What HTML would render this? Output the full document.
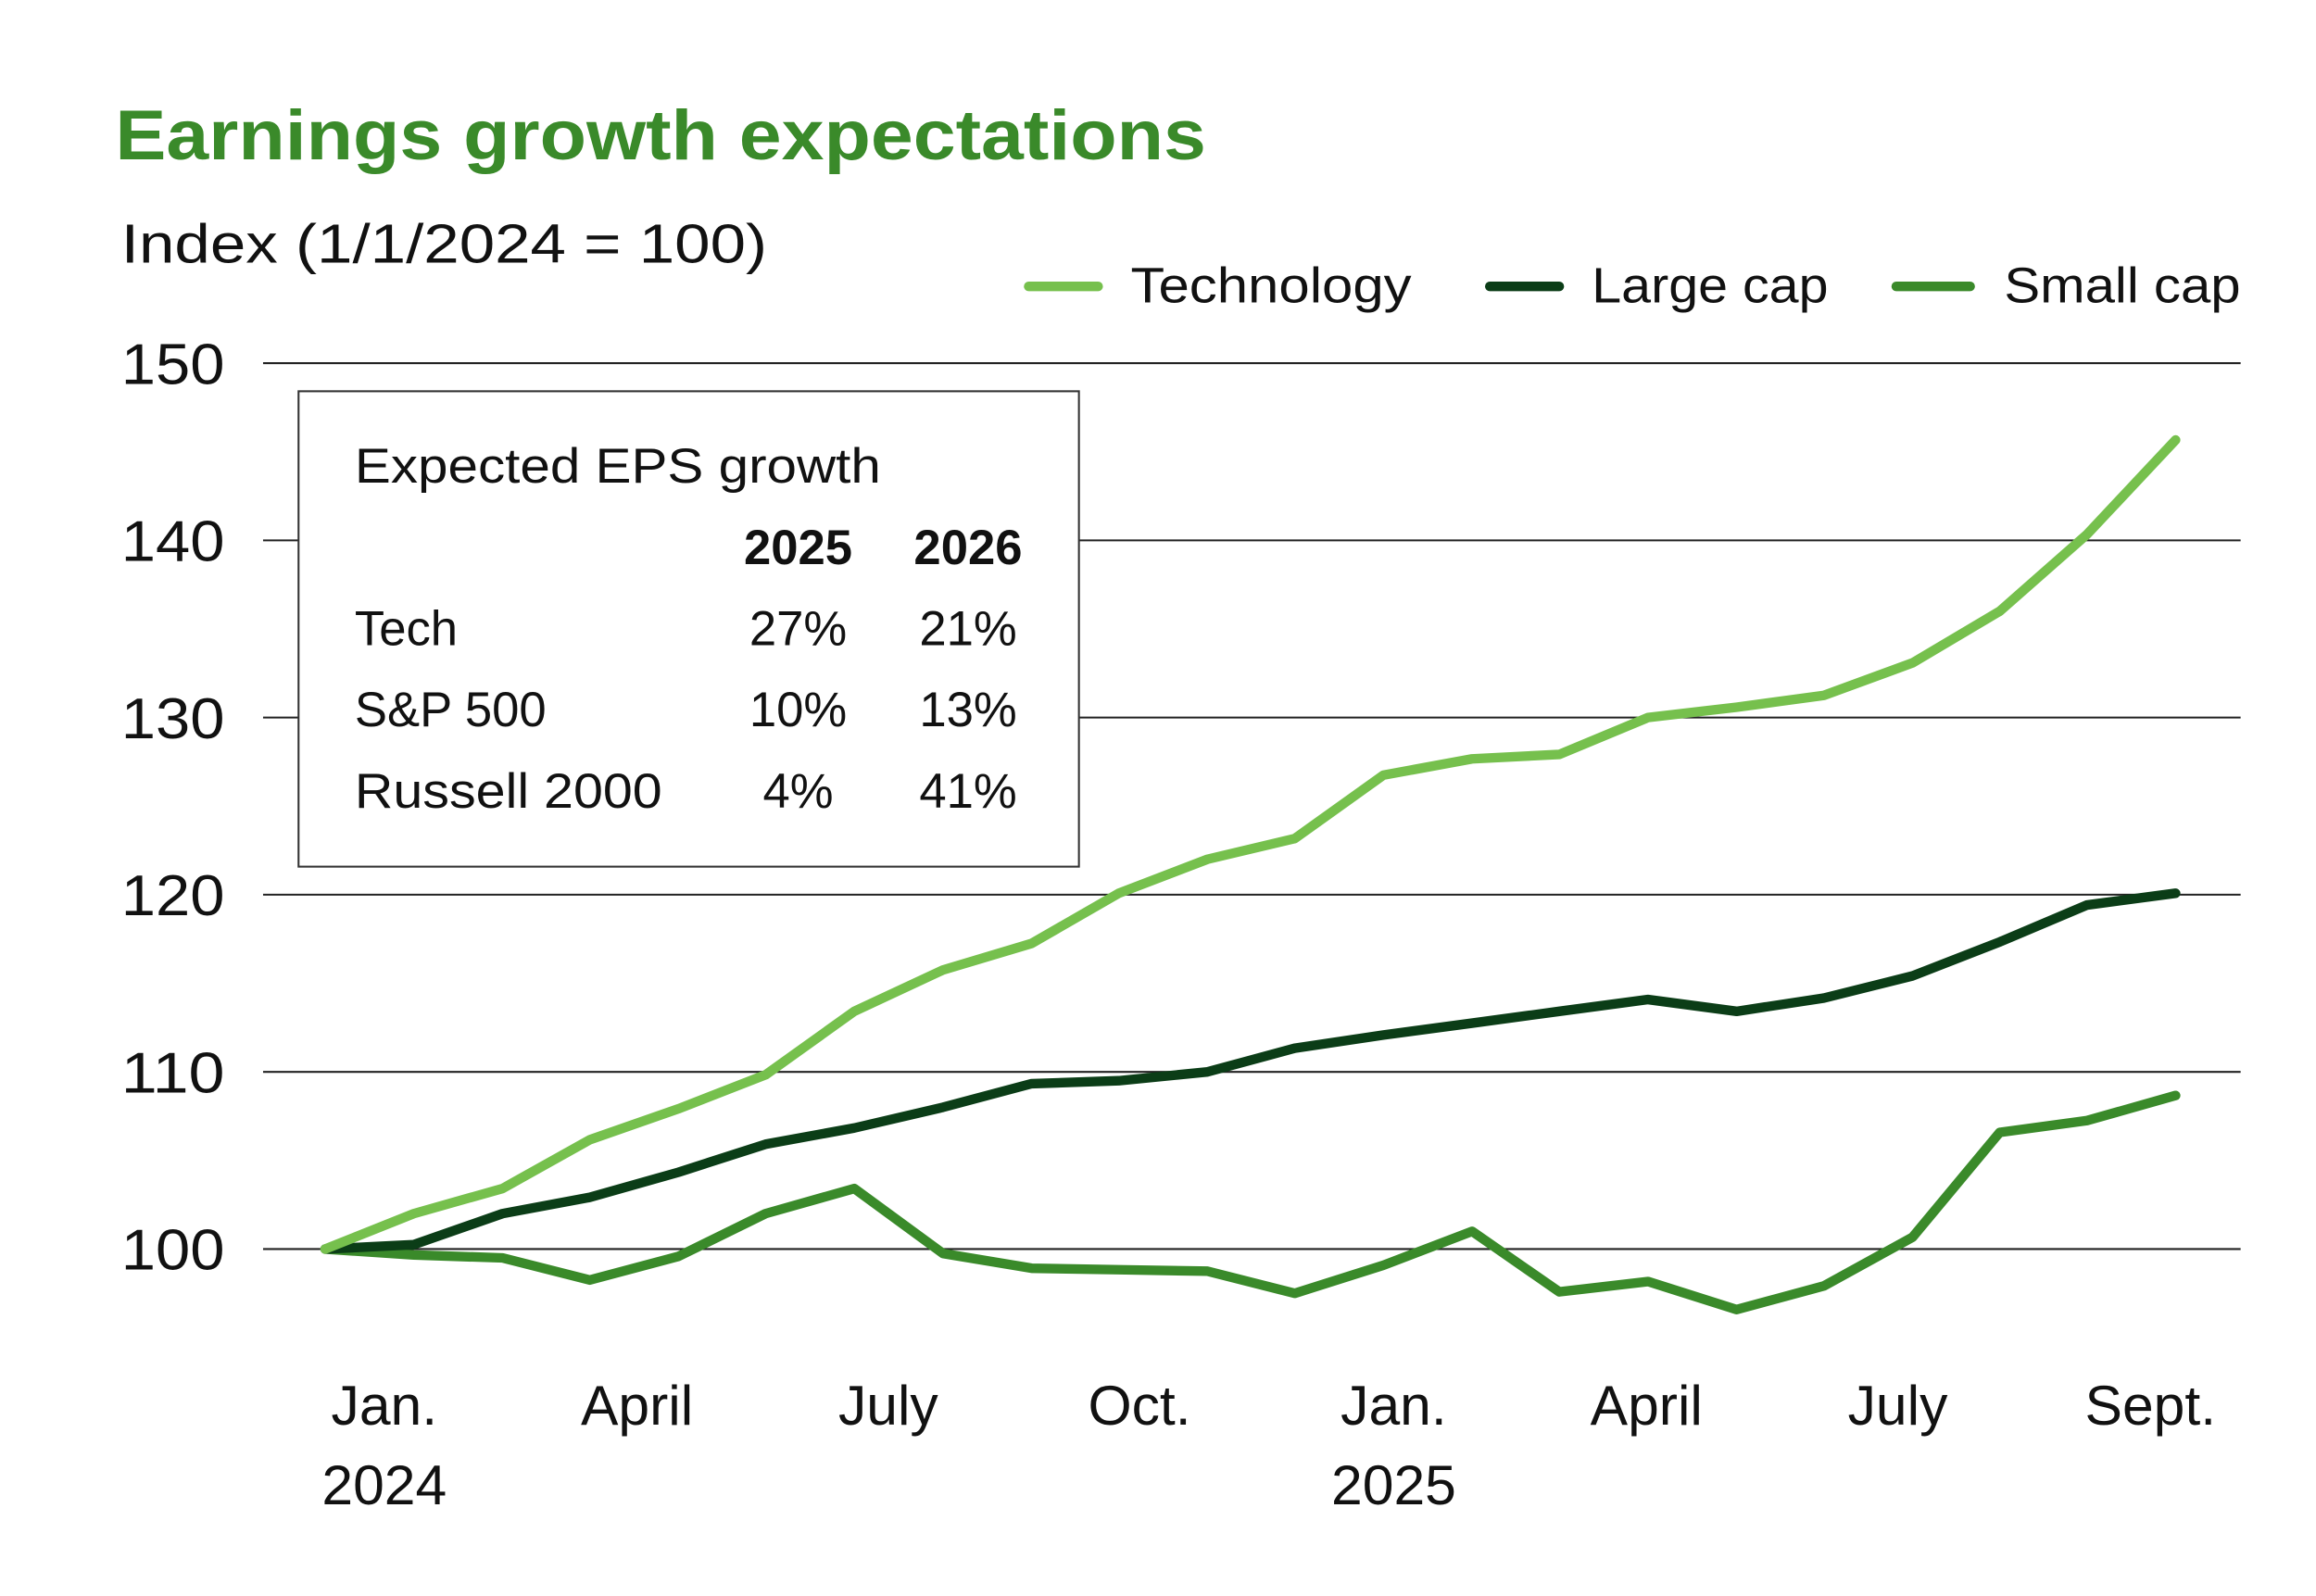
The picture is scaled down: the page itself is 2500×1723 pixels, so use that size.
<!DOCTYPE html>
<html><head><meta charset="utf-8"><style>html,body{margin:0;padding:0;background:#fff}svg{display:block}</style></head>
<body>
<svg width="2500" height="1723" viewBox="0 0 1567 1081" preserveAspectRatio="none" xmlns="http://www.w3.org/2000/svg" font-family="'Liberation Sans', sans-serif">
<text x="78" y="108" font-size="48" font-weight="bold" fill="#3a8a2a" textLength="738" lengthAdjust="spacingAndGlyphs">Earnings growth expectations</text>
<text x="82" y="178" font-size="37" fill="#111" textLength="437" lengthAdjust="spacingAndGlyphs">Index (1/1/2024 = 100)</text>
<g stroke-width="6.5" stroke-linecap="round">
<line x1="696" y1="194" x2="743" y2="194" stroke="#76c04d"/>
<line x1="1008" y1="194" x2="1055" y2="194" stroke="#0b3d17"/>
<line x1="1283" y1="194" x2="1333" y2="194" stroke="#3a8a2a"/>
</g>
<g font-size="34" fill="#111">
<text x="765" y="205" textLength="190" lengthAdjust="spacingAndGlyphs">Technology</text>
<text x="1077" y="205" textLength="160" lengthAdjust="spacingAndGlyphs">Large cap</text>
<text x="1356" y="205" textLength="160" lengthAdjust="spacingAndGlyphs">Small cap</text>
</g>
<g stroke="#222" stroke-width="1.3">
<line x1="178" y1="246" x2="1516" y2="246"/><line x1="178" y1="366" x2="1516" y2="366"/>
<line x1="178" y1="486" x2="1516" y2="486"/><line x1="178" y1="606" x2="1516" y2="606"/>
<line x1="178" y1="726" x2="1516" y2="726"/><line x1="178" y1="846" x2="1516" y2="846"/>
</g>
<g font-size="39" fill="#111">
<text x="82" y="260" textLength="70" lengthAdjust="spacingAndGlyphs">150</text><text x="82" y="380" textLength="70" lengthAdjust="spacingAndGlyphs">140</text><text x="82" y="500" textLength="70" lengthAdjust="spacingAndGlyphs">130</text>
<text x="82" y="620" textLength="70" lengthAdjust="spacingAndGlyphs">120</text><text x="82" y="740" textLength="70" lengthAdjust="spacingAndGlyphs">110</text><text x="82" y="860" textLength="70" lengthAdjust="spacingAndGlyphs">100</text>
</g>
<rect x="202" y="265" width="528" height="322" fill="#fff" stroke="#333" stroke-width="1.3"/>
<g font-size="33" fill="#111">
<text x="240" y="327" textLength="356" lengthAdjust="spacingAndGlyphs">Expected EPS growth</text>
<text x="540" y="382" text-anchor="middle" font-weight="bold">2025</text>
<text x="655" y="382" text-anchor="middle" font-weight="bold">2026</text>
<text x="240" y="437">Tech</text><text x="540" y="437" text-anchor="middle">27%</text><text x="655" y="437" text-anchor="middle">21%</text>
<text x="240" y="492">S&amp;P 500</text><text x="540" y="492" text-anchor="middle">10%</text><text x="655" y="492" text-anchor="middle">13%</text>
<text x="240" y="547" textLength="208" lengthAdjust="spacingAndGlyphs">Russell 2000</text><text x="540" y="547" text-anchor="middle">4%</text><text x="655" y="547" text-anchor="middle">41%</text>
</g>
<g fill="none" stroke-width="6.5" stroke-linejoin="round" stroke-linecap="round">
<polyline stroke="#3a8a2a" points="220,846 280,850 340,852 399,867 459,851 518,822 578,805 638,849 698,859 757,860 817,861 876,876 936,857 996,834 1055,875 1115,868 1175,887 1234,871 1294,838 1353,767 1412,759 1472,742"/>
<polyline stroke="#0b3d17" points="220,846 280,843 340,822 399,811 459,794 518,775 578,764 638,750 698,734 757,732 817,726 876,710 936,701 996,693 1055,685 1115,677 1175,685 1234,676 1294,661 1353,638 1412,613 1472,605"/>
<polyline stroke="#76c04d" points="220,846 280,822 340,805 399,772 459,751 518,728 578,685 638,657 698,639 757,605 817,582 876,568 936,525 996,514 1055,511 1115,486 1175,479 1234,471 1294,449 1353,414 1412,362 1472,298"/>
</g>
<g font-size="38" fill="#111" text-anchor="middle">
<text x="260" y="965">Jan.</text><text x="431" y="965">April</text><text x="601" y="965">July</text><text x="771" y="965">Oct.</text>
<text x="943" y="965">Jan.</text><text x="1114" y="965">April</text><text x="1284" y="965">July</text><text x="1455" y="965">Sept.</text>
<text x="260" y="1019">2024</text><text x="943" y="1019">2025</text>
</g>
</svg>
</body></html>
